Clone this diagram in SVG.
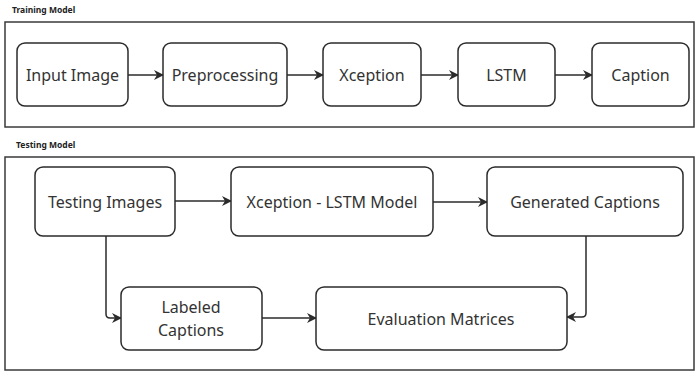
<svg xmlns="http://www.w3.org/2000/svg" width="696" height="371" viewBox="0 0 696 371">
  <style>
    .frame { fill: none; stroke: #3a3a3a; stroke-width: 1.5; }
    .node rect { fill: #ffffff; stroke: #2b2b2b; stroke-width: 1.5; }
    .node text { font-family: "Noto Sans", "Open Sans", sans-serif; font-size: 16px; fill: #333333; text-anchor: middle; dominant-baseline: central; }
    .title { font-family: "Noto Sans", "Open Sans", sans-serif; font-size: 8.5px; font-weight: bold; fill: #222222; }
    .edge { fill: none; stroke: #2b2b2b; stroke-width: 1.5; marker-end: url(#arrow); }
  </style>
  <defs>
    <marker id="arrow" viewBox="0 0 10 10" refX="9" refY="5" markerWidth="10" markerHeight="10" markerUnits="userSpaceOnUse" orient="auto">
      <path d="M0,0 L10,5 L0,10 L3,5 Z" fill="#2b2b2b"/>
    </marker>
  </defs>
  <rect width="696" height="371" fill="#ffffff"/>

  <!-- training pipeline -->
  <text class="title" x="12" y="13">Training Model</text>
  <rect class="frame" x="5" y="22" width="689" height="105"/>

  <!-- testing pipeline -->
  <text class="title" x="16" y="148">Testing Model</text>
  <rect class="frame" x="5" y="157" width="689" height="213"/>

  <g id="connectors">
    <path class="edge" d="M128,75 H163"/>
    <path class="edge" d="M287,75 H323"/>
    <path class="edge" d="M421,75 H458"/>
    <path class="edge" d="M555,75 H592"/>
    <path class="edge" d="M175,201 H231"/>
    <path class="edge" d="M433,202 H487"/>
    <path class="edge" d="M106,236 V314 Q106,318 110,318 H121"/>
    <path class="edge" d="M262,318 H316"/>
    <path class="edge" d="M586,236 V313 Q586,317 582,317 H567"/>
  </g>

  <g id="input-image" class="node">
    <rect x="17" y="43" width="111" height="63" rx="8"/>
    <text x="72.5" y="75">Input Image</text>
  </g>
  <g id="preprocessing" class="node">
    <rect x="163" y="43" width="124" height="63" rx="8"/>
    <text x="225" y="75">Preprocessing</text>
  </g>
  <g id="xception" class="node">
    <rect x="323" y="43" width="98" height="63" rx="8"/>
    <text x="372" y="75">Xception</text>
  </g>
  <g id="lstm" class="node">
    <rect x="458" y="43" width="97" height="63" rx="8"/>
    <text x="506.5" y="75">LSTM</text>
  </g>
  <g id="caption" class="node">
    <rect x="592" y="43" width="97" height="63" rx="8"/>
    <text x="640.5" y="75">Caption</text>
  </g>

  <g id="testing-images" class="node">
    <rect x="35" y="167" width="140" height="69" rx="8"/>
    <text x="105" y="202">Testing Images</text>
  </g>
  <g id="xception-lstm-model" class="node">
    <rect x="231" y="167" width="202" height="69" rx="8"/>
    <text x="332" y="202">Xception - LSTM Model</text>
  </g>
  <g id="generated-captions" class="node">
    <rect x="487" y="167" width="196" height="69" rx="8"/>
    <text x="585" y="202">Generated Captions</text>
  </g>
  <g id="labeled-captions" class="node">
    <rect x="121" y="287" width="141" height="63" rx="8"/>
    <text x="191" y="307">Labeled</text>
    <text x="191" y="330">Captions</text>
  </g>
  <g id="evaluation-matrices" class="node">
    <rect x="316" y="287" width="251" height="63" rx="8"/>
    <text x="441" y="319">Evaluation Matrices</text>
  </g>
</svg>
